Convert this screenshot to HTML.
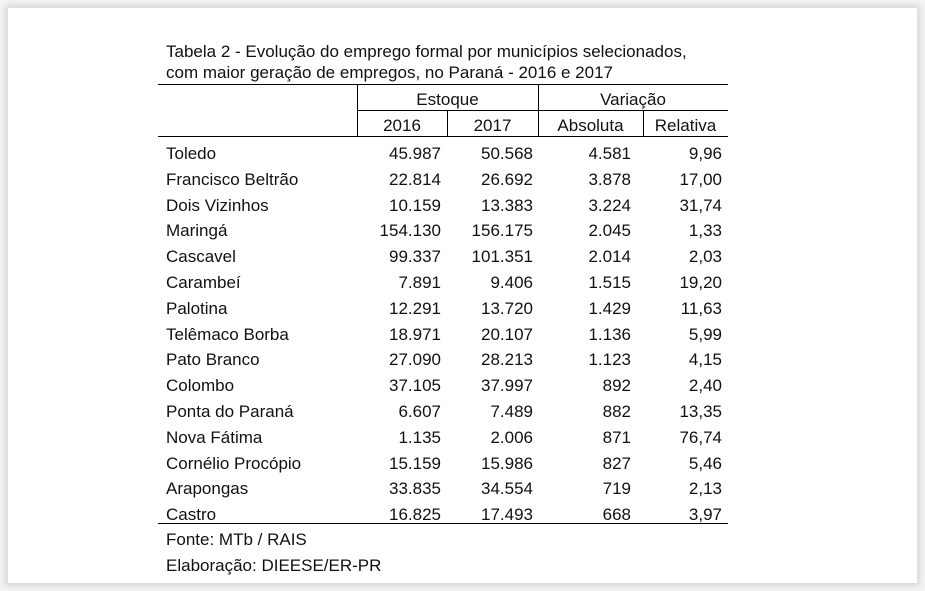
<!DOCTYPE html>
<html><head><meta charset="utf-8"><style>
body{margin:0;width:925px;height:591px;background:#f4f4f4;position:relative;overflow:hidden;font-family:"Liberation Sans",sans-serif;color:#111;}
#box{position:absolute;left:8px;top:8px;width:909px;height:575px;background:#fff;box-shadow:0 0 6px 3px #d8d8d8;}
.t{position:absolute;font-size:17px;line-height:18px;white-space:nowrap;}
.r{text-align:right;}
.h{position:absolute;background:#000;height:1px;}
.v{position:absolute;background:#000;width:1px;}
</style></head><body>
<div id="box"></div>
<div class="t" style="left:166px;top:43px">Tabela 2 - Evolução do emprego formal por municípios selecionados,</div>
<div class="t" style="left:166px;top:64px">com maior geração de empregos, no Paraná - 2016 e 2017</div>
<div class="h" style="left:158px;top:84px;width:570px"></div>
<div class="h" style="left:357px;top:110px;width:371px"></div>
<div class="h" style="left:158px;top:136px;width:570px"></div>
<div class="h" style="left:158px;top:523px;width:570px"></div>
<div class="v" style="left:357px;top:84px;height:52px"></div>
<div class="v" style="left:538px;top:84px;height:52px"></div>
<div class="v" style="left:447px;top:110px;height:26px"></div>
<div class="v" style="left:643px;top:110px;height:26px"></div>
<div class="t" style="left:357px;width:181px;text-align:center;top:91px">Estoque</div>
<div class="t" style="left:538px;width:190px;text-align:center;top:91px">Variação</div>
<div class="t" style="left:357px;width:90px;text-align:center;top:117px">2016</div>
<div class="t" style="left:447px;width:91px;text-align:center;top:117px">2017</div>
<div class="t" style="left:538px;width:105px;text-align:center;top:117px">Absoluta</div>
<div class="t" style="left:643px;width:85px;text-align:center;top:117px">Relativa</div>
<div id="rows"></div>
<div class="t" style="left:166px;top:531px">Fonte: MTb / RAIS</div>
<div class="t" style="left:166px;top:557px">Elaboração: DIEESE/ER-PR</div>
<script>
var d=[["Toledo","45.987","50.568","4.581","9,96"],["Francisco Beltrão","22.814","26.692","3.878","17,00"],["Dois Vizinhos","10.159","13.383","3.224","31,74"],["Maringá","154.130","156.175","2.045","1,33"],["Cascavel","99.337","101.351","2.014","2,03"],["Carambeí","7.891","9.406","1.515","19,20"],["Palotina","12.291","13.720","1.429","11,63"],["Telêmaco Borba","18.971","20.107","1.136","5,99"],["Pato Branco","27.090","28.213","1.123","4,15"],["Colombo","37.105","37.997","892","2,40"],["Ponta do Paraná","6.607","7.489","882","13,35"],["Nova Fátima","1.135","2.006","871","76,74"],["Cornélio Procópio","15.159","15.986","827","5,46"],["Arapongas","33.835","34.554","719","2,13"],["Castro","16.825","17.493","668","3,97"]];
var rights=[441,533,631,722],h="";
d.forEach(function(r,i){var y=145+i*25.8;
h+='<div class="t" style="left:166px;top:'+y+'px">'+r[0]+'</div>';
for(var j=1;j<5;j++)h+='<div class="t r" style="left:'+(rights[j-1]-120)+'px;width:120px;top:'+y+'px">'+r[j]+'</div>';});
document.getElementById('rows').innerHTML=h;
</script>
</body></html>
